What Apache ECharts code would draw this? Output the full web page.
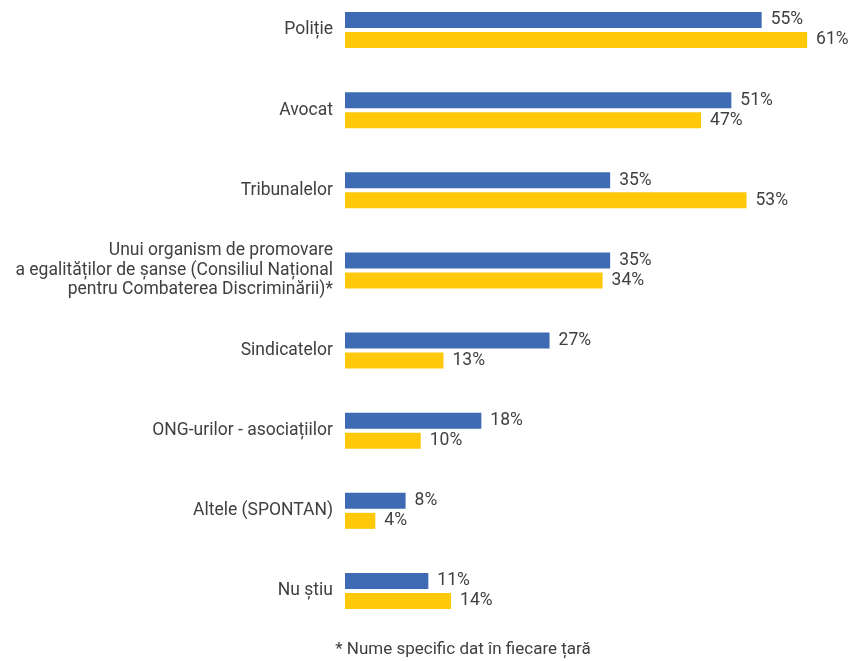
<!DOCTYPE html>
<html>
<head>
<meta charset="utf-8">
<script src="https://cdn.jsdelivr.net/npm/echarts@6/dist/echarts.min.js"></script>
<style>
  html, body { margin: 0; padding: 0; background: #fff; }
  #chart { width: 853px; height: 661px; }
</style>
</head>
<body>
<div id="chart"></div>
<script>
const categories = [
  'Poliție',
  'Avocat',
  'Tribunalelor',
  'Unui organism de promovare\na egalităților de șanse (Consiliul Național\npentru Combaterea Discriminării)*',
  'Sindicatelor',
  'ONG-urilor - asociațiilor',
  'Altele (SPONTAN)',
  'Nu știu'
];
const blueValues = [55, 51, 35, 35, 27, 18, 8, 11];
const yellowValues = [61, 47, 53, 34, 13, 10, 4, 14];
const footnote = '* Nume specific dat în fiecare țară';

const FONT = "Roboto, 'Liberation Sans', sans-serif";
const TEXT = '#404040';

const chart = echarts.init(document.getElementById('chart'));

// shared label look for the percentage values
const valueLabel = {
  show: true,
  position: 'right',
  distance: 9,
  formatter: '{c}%',
  color: TEXT,
  fontFamily: FONT,
  fontSize: 17.5
};

const option = {
  animation: false,
  grid: {
    left: 345,
    top: 30,
    width: 500,
    height: 561
  },
  xAxis: {
    type: 'value',
    min: 0,
    max: 66,
    show: false
  },
  yAxis: {
    type: 'category',
    inverse: true,
    boundaryGap: false,
    data: categories,
    axisLine: { show: false },
    axisTick: { show: false },
    splitLine: { show: false },
    axisLabel: {
      margin: 12,
      color: TEXT,
      fontFamily: FONT,
      fontSize: 17.5,
      lineHeight: 19.5,
      align: 'right'
    }
  },
  series: [
    {
      type: 'bar',
      data: blueValues,
      barWidth: 16,
      barGap: '25%',
      itemStyle: { color: '#3F6AB4' },
      label: valueLabel
    },
    {
      type: 'bar',
      data: yellowValues,
      barWidth: 16,
      barGap: '25%',
      itemStyle: { color: '#FFC90A' },
      label: valueLabel
    }
  ],
  graphic: [
    {
      type: 'text',
      x: 463,
      y: 650,
      style: {
        text: footnote,
        fill: TEXT,
        font: '17px ' + FONT,
        align: 'center',
        verticalAlign: 'middle'
      }
    }
  ]
};

chart.setOption(option);
</script>
</body>
</html>
